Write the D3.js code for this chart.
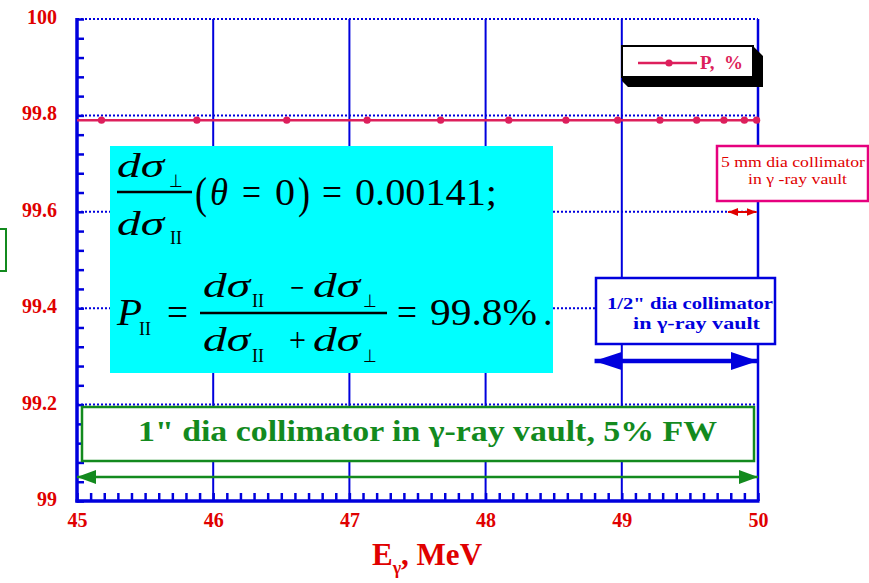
<!DOCTYPE html>
<html>
<head>
<meta charset="utf-8">
<script src="https://cdn.jsdelivr.net/npm/d3@7"></script>
<style>
  body { margin: 0; background: #fff; }
  svg { display: block; }
  text { font-family: "Liberation Serif", "Times New Roman", serif; }
</style>
</head>
<body>
<div id="chart"></div>
<script>
// Data
var energies = [45.18, 45.88, 46.54, 47.13, 47.67, 48.17, 48.59, 48.97, 49.28, 49.55, 49.75, 49.9, 49.99];
var polarization = [99.79, 99.79, 99.79, 99.79, 99.79, 99.79, 99.79, 99.79, 99.79, 99.79, 99.79, 99.79, 99.79];
var xTickLabels = [45, 46, 47, 48, 49, 50];
var yTickLabels = [99, 99.2, 99.4, 99.6, 99.8, 100];
var legendLabel = "P,  %";

// Canvas
var svgWidth = 869;
var svgHeight = 583;
var margin = { top: 19, right: 111, bottom: 82, left: 77 };
var width = svgWidth - margin.left - margin.right;
var height = svgHeight - margin.top - margin.bottom;

var svg = d3.select("#chart").append("svg")
  .attr("width", svgWidth)
  .attr("height", svgHeight);

var defs = svg.append("defs");
function arrowHead(id, color, w, h) {
  defs.append("marker")
    .attr("id", id)
    .attr("viewBox", "0 0 10 10")
    .attr("refX", 10).attr("refY", 5)
    .attr("markerUnits", "userSpaceOnUse")
    .attr("markerWidth", w).attr("markerHeight", h)
    .attr("orient", "auto-start-reverse")
    .attr("preserveAspectRatio", "none")
    .append("path").attr("d", "M0,0L10,5L0,10Z").attr("fill", color);
}
arrowHead("ag", "#138a1e", 19, 14);
arrowHead("ab", "#0000dd", 27, 18);
arrowHead("ar", "#e00000", 10, 8);

var chart = svg.append("g")
  .attr("transform", `translate(${margin.left}, ${margin.top})`);

// Scales
var x = d3.scaleLinear().domain([45, 50]).range([0, width]);
var y = d3.scaleLinear().domain([99, 100]).range([height, 0]);

var blue = "#0000dd";
var red = "#e00000";
var pink = "#dd1f5c";
var green = "#138a1e";

// Grid: solid verticals at major x, dotted horizontals at major y
chart.append("g").selectAll("line")
  .data(xTickLabels.slice(1, -1))
  .enter().append("line")
  .attr("x1", d => x(d)).attr("x2", d => x(d))
  .attr("y1", 0).attr("y2", height)
  .attr("stroke", blue).attr("stroke-width", 2);

chart.append("g").selectAll("line")
  .data(yTickLabels.slice(1))
  .enter().append("line")
  .attr("x1", 0).attr("x2", width)
  .attr("y1", d => y(d)).attr("y2", d => y(d))
  .attr("stroke", blue).attr("stroke-width", 2)
  .attr("stroke-dasharray", "2,2");

// Minor ticks
var xMinor = d3.axisBottom(x).tickValues(d3.range(45, 50.001, 0.1)).tickSize(-8).tickFormat("");
chart.append("g").attr("transform", `translate(0, ${height})`).call(xMinor)
  .call(g => g.select(".domain").remove())
  .selectAll("line").attr("stroke", blue).attr("stroke-width", 2.5);

var yMinor = d3.axisLeft(y).tickValues(d3.range(99, 100.001, 0.04)).tickSize(-7).tickFormat("");
chart.append("g").call(yMinor)
  .call(g => g.select(".domain").remove())
  .selectAll("line").attr("stroke", blue).attr("stroke-width", 2.5);

// Axis frame lines
chart.append("line").attr("x1", 0).attr("x2", 0).attr("y1", -1).attr("y2", height + 1.5)
  .attr("stroke", blue).attr("stroke-width", 3.5);
chart.append("line").attr("x1", -1.5).attr("x2", width + 1.5).attr("y1", height).attr("y2", height)
  .attr("stroke", blue).attr("stroke-width", 3.5);
chart.append("line").attr("x1", width).attr("x2", width).attr("y1", 0).attr("y2", height)
  .attr("stroke", blue).attr("stroke-width", 2.5);

// Tick labels
var xLabels = d3.axisBottom(x).tickValues(xTickLabels).tickSize(0).tickPadding(12).tickFormat(d3.format("d"));
chart.append("g").attr("transform", `translate(0, ${height})`).call(xLabels)
  .call(g => g.select(".domain").remove())
  .selectAll("text")
  .attr("fill", red).attr("font-size", 20).attr("font-weight", "bold")
  .attr("font-family", "Liberation Serif");

var yLabels = d3.axisLeft(y).tickValues(yTickLabels).tickSize(0).tickPadding(20).tickFormat(d => d3.format("")(d));
chart.append("g").call(yLabels)
  .call(g => g.select(".domain").remove())
  .selectAll("text")
  .attr("dy", "0.22em")
  .attr("fill", red).attr("font-size", 20).attr("font-weight", "bold")
  .attr("font-family", "Liberation Serif");

// Data line and markers
var lineData = energies.map((e, i) => [e, polarization[i]]);
var line = d3.line().x(d => x(d[0])).y(d => y(d[1]));
chart.append("path")
  .datum([[45, polarization[0]]].concat(lineData).concat([[50, polarization[polarization.length - 1]]]))
  .attr("d", line)
  .attr("fill", "none").attr("stroke", pink).attr("stroke-width", 2.5);

chart.selectAll("circle.pt")
  .data(lineData)
  .enter().append("circle")
  .attr("class", "pt")
  .attr("cx", d => x(d[0])).attr("cy", d => y(d[1]))
  .attr("r", 3.6).attr("fill", pink);

// Legend with shadow
var legend = svg.append("g");
legend.append("path")
  .attr("d", "M753,46 L763,56 L763,87 L628,87 L622,81 L622,77 L753,77 Z")
  .attr("fill", "#000");
legend.append("rect")
  .attr("x", 622).attr("y", 46).attr("width", 131).attr("height", 31)
  .attr("fill", "#fff").attr("stroke", "#000").attr("stroke-width", 2);
legend.append("line").attr("x1", 638).attr("x2", 697).attr("y1", 63).attr("y2", 63)
  .attr("stroke", pink).attr("stroke-width", 2.5);
legend.append("circle").attr("cx", 669).attr("cy", 63).attr("r", 3.6).attr("fill", pink);
legend.append("text").attr("x", 700).attr("y", 69)
  .attr("fill", pink).attr("font-size", 19).attr("font-weight", "bold")
  .attr("xml:space", "preserve")
  .text(legendLabel);

// 5 mm annotation
svg.append("rect").attr("x", 717).attr("y", 146).attr("width", 151).attr("height", 55)
  .attr("fill", "#fff").attr("stroke", "#e6007e").attr("stroke-width", 2.5);
svg.append("text").attr("x", 721).attr("y", 167).attr("textLength", 144).attr("lengthAdjust", "spacingAndGlyphs")
  .attr("fill", red).attr("font-size", 15).text("5 mm dia collimator");
svg.append("text").attr("x", 748).attr("y", 184).attr("textLength", 99).attr("lengthAdjust", "spacingAndGlyphs")
  .attr("fill", red).attr("font-size", 15).text("in γ -ray vault");
svg.append("line")
  .attr("x1", margin.left + x(49.78)).attr("x2", margin.left + x(49.99))
  .attr("y1", 212).attr("y2", 212)
  .attr("stroke", red).attr("stroke-width", 2)
  .attr("marker-start", "url(#ar)").attr("marker-end", "url(#ar)");

// 1/2" annotation
svg.append("rect").attr("x", 596).attr("y", 278).attr("width", 179).attr("height", 66)
  .attr("fill", "#fff").attr("stroke", blue).attr("stroke-width", 2.5);
svg.append("text").attr("x", 607).attr("y", 309).attr("textLength", 166).attr("lengthAdjust", "spacingAndGlyphs")
  .attr("fill", blue).attr("font-size", 17).attr("font-weight", "bold").text("1/2\" dia collimator");
svg.append("text").attr("x", 633).attr("y", 329).attr("textLength", 127).attr("lengthAdjust", "spacingAndGlyphs")
  .attr("fill", blue).attr("font-size", 17).attr("font-weight", "bold").text("in γ-ray vault");
svg.append("line")
  .attr("x1", margin.left + x(48.8)).attr("x2", margin.left + x(50))
  .attr("y1", 361).attr("y2", 361)
  .attr("stroke", blue).attr("stroke-width", 4.5)
  .attr("marker-start", "url(#ab)").attr("marker-end", "url(#ab)");

// 1" annotation
svg.append("rect").attr("x", 82).attr("y", 407).attr("width", 672).attr("height", 54)
  .attr("fill", "#fff").attr("stroke", green).attr("stroke-width", 2.5);
svg.append("text").attr("x", 138).attr("y", 441).attr("textLength", 579).attr("lengthAdjust", "spacingAndGlyphs")
  .attr("fill", green).attr("font-size", 29).attr("font-weight", "bold")
  .text("1\" dia collimator in γ-ray vault, 5% FW");
svg.append("line")
  .attr("x1", margin.left + x(45)).attr("x2", margin.left + x(50))
  .attr("y1", 477).attr("y2", 477)
  .attr("stroke", green).attr("stroke-width", 2.5)
  .attr("marker-start", "url(#ag)").attr("marker-end", "url(#ag)");

// Clipped green box at the left edge
svg.append("rect").attr("x", -40).attr("y", 229).attr("width", 46).attr("height", 42)
  .attr("fill", "none").attr("stroke", green).attr("stroke-width", 2);

// Formula box
svg.append("rect").attr("x", 110).attr("y", 146).attr("width", 443).attr("height", 227)
  .attr("fill", "#00ffff");

var f = svg.append("g").attr("fill", "#000");
function t(str, xx, yy, size, italic, len) {
  var el = f.append("text").attr("x", xx).attr("y", yy).attr("font-size", size)
    .attr("font-style", italic ? "italic" : "normal")
    .attr("xml:space", "preserve")
    .text(str);
  if (len) el.attr("textLength", len).attr("lengthAdjust", "spacingAndGlyphs");
  return el;
}
function bar(x1, x2, yy) {
  f.append("line").attr("x1", x1).attr("x2", x2).attr("y1", yy).attr("y2", yy)
    .attr("stroke", "#000").attr("stroke-width", 2.5);
}
// first formula
t("dσ", 117, 177, 34, true, 47);
t("⊥", 169, 187, 18, false, 14);
bar(117, 192, 192);
t("dσ", 117, 235, 34, true, 47);
t("II", 170, 244, 18, false, 12);
t("(", 195, 208, 44, false, 12);
t("θ", 210, 205, 38, true, 18);
t("=", 242, 205, 38, false, 19);
t("0", 275, 205, 38, false, 20);
t(")", 298, 208, 44, false, 12);
t("=", 322, 205, 38, false, 20);
t("0.00141;", 355, 205, 38, false, 142);
// second formula
t("P", 117, 325, 38, true, 25);
t("II", 139, 335, 18, false, 12);
t("=", 167, 325, 38, false, 21);
t("dσ", 203, 297, 34, true, 47);
t("II", 252, 307, 18, false, 12);
t("−", 290, 299, 34, false, 14);
t("dσ", 313, 297, 34, true, 47);
t("⊥", 363, 307, 18, false, 14);
bar(200, 387, 313);
t("dσ", 203, 351, 34, true, 47);
t("II", 252, 362, 18, false, 12);
t("+", 289, 351, 34, false, 17);
t("dσ", 313, 351, 34, true, 47);
t("⊥", 363, 362, 18, false, 14);
t("=", 397, 325, 38, false, 20);
t("99.8%", 430, 325, 38, false, 107);
t(".", 543, 325, 38, false);

// Axis title
var title = svg.append("text").attr("x", 372).attr("y", 565)
  .attr("fill", red).attr("font-weight", "bold").attr("font-size", 31);
title.append("tspan").text("E");
title.append("tspan").attr("font-size", 18).attr("dy", 9).text("γ");
title.append("tspan").attr("dy", -9).text(", MeV");
</script>
</body>
</html>
